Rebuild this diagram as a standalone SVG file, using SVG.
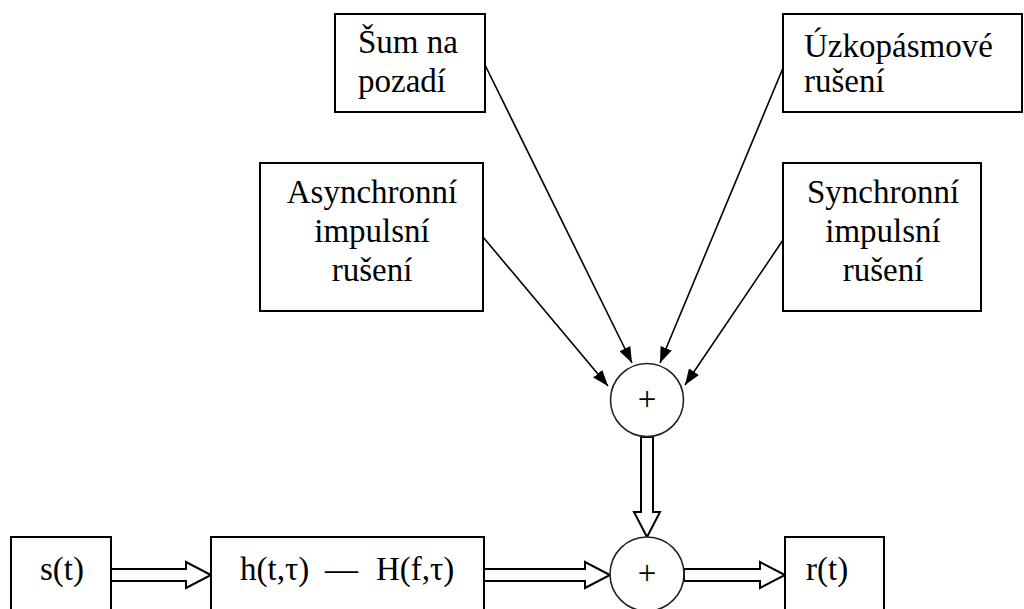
<svg xmlns="http://www.w3.org/2000/svg" width="1024" height="609" viewBox="0 0 1024 609">
<style>
.box{fill:#fff;stroke:#000;stroke-width:2}
.circ{fill:#fff;stroke:#222;stroke-width:1.6}
.t{font-family:"Liberation Serif","Times New Roman",serif;font-size:33px;fill:#000}
.m{text-anchor:middle}
.ln{stroke:#000;stroke-width:1.6;fill:none}
.dbl{fill:#fff;stroke:#000;stroke-width:2;stroke-linejoin:miter}
</style>
<defs>
<marker id="ah" markerUnits="userSpaceOnUse" markerWidth="16" markerHeight="12" refX="16" refY="6" orient="auto">
<path d="M0,0 L16,6 L0,12 Z" fill="#000"/>
</marker>
</defs>
<rect width="1024" height="609" fill="#fff"/>
<g id="connectors">
<line class="ln" x1="485" y1="65" x2="632" y2="363" marker-end="url(#ah)"/>
<line class="ln" x1="783" y1="68" x2="660" y2="363" marker-end="url(#ah)"/>
<line class="ln" x1="483" y1="237" x2="608" y2="386" marker-end="url(#ah)"/>
<line class="ln" x1="783" y1="240" x2="685" y2="385" marker-end="url(#ah)"/>
<polygon class="dbl" points="641,437 641,512 634,512 647,537 660,512 653,512 653,437"/>
<polygon class="dbl" points="111,569 186,569 186,562 211,575 186,588 186,581 111,581"/>
<polygon class="dbl" points="484,569 585,569 585,562 610,575 585,588 585,581 484,581"/>
<polygon class="dbl" points="684,569 760,569 760,562 785,575 760,588 760,581 684,581"/>
</g>
<g id="sum">
<rect class="box" x="335" y="14" width="150" height="98"/>
<text class="t" x="358" y="53">Šum na</text>
<text class="t" x="358" y="92">pozadí</text>
</g>
<g id="uzko">
<rect class="box" x="783" y="14" width="239" height="98"/>
<text class="t" x="804" y="57">Úzkopásmové</text>
<text class="t" x="804" y="92">rušení</text>
</g>
<g id="async">
<rect class="box" x="260" y="163" width="223" height="148"/>
<text class="t m" x="372" y="203">Asynchronní</text>
<text class="t m" x="372" y="242">impulsní</text>
<text class="t m" x="372" y="281">rušení</text>
</g>
<g id="sync">
<rect class="box" x="783" y="163" width="198" height="148"/>
<text class="t m" x="883" y="203">Synchronní</text>
<text class="t m" x="883" y="242">impulsní</text>
<text class="t m" x="883" y="281">rušení</text>
</g>
<g id="sum1">
<circle class="circ" cx="647" cy="400" r="36.5"/>
<text class="t m" x="647" y="410">+</text>
</g>
<g id="sum2">
<circle class="circ" cx="647" cy="574" r="37"/>
<text class="t m" x="647" y="584">+</text>
</g>
<g id="s">
<rect class="box" x="11" y="537" width="100" height="90"/>
<text class="t" x="40" y="580">s(t)</text>
</g>
<g id="h">
<rect class="box" x="211" y="537" width="273" height="90"/>
<text class="t" x="240" y="580">h(t,τ)</text>
<text class="t" x="325" y="580">—</text>
<text class="t" x="376" y="580">H(f,τ)</text>
</g>
<g id="r">
<rect class="box" x="785" y="537" width="99" height="90"/>
<text class="t" x="806" y="580">r(t)</text>
</g>
</svg>
